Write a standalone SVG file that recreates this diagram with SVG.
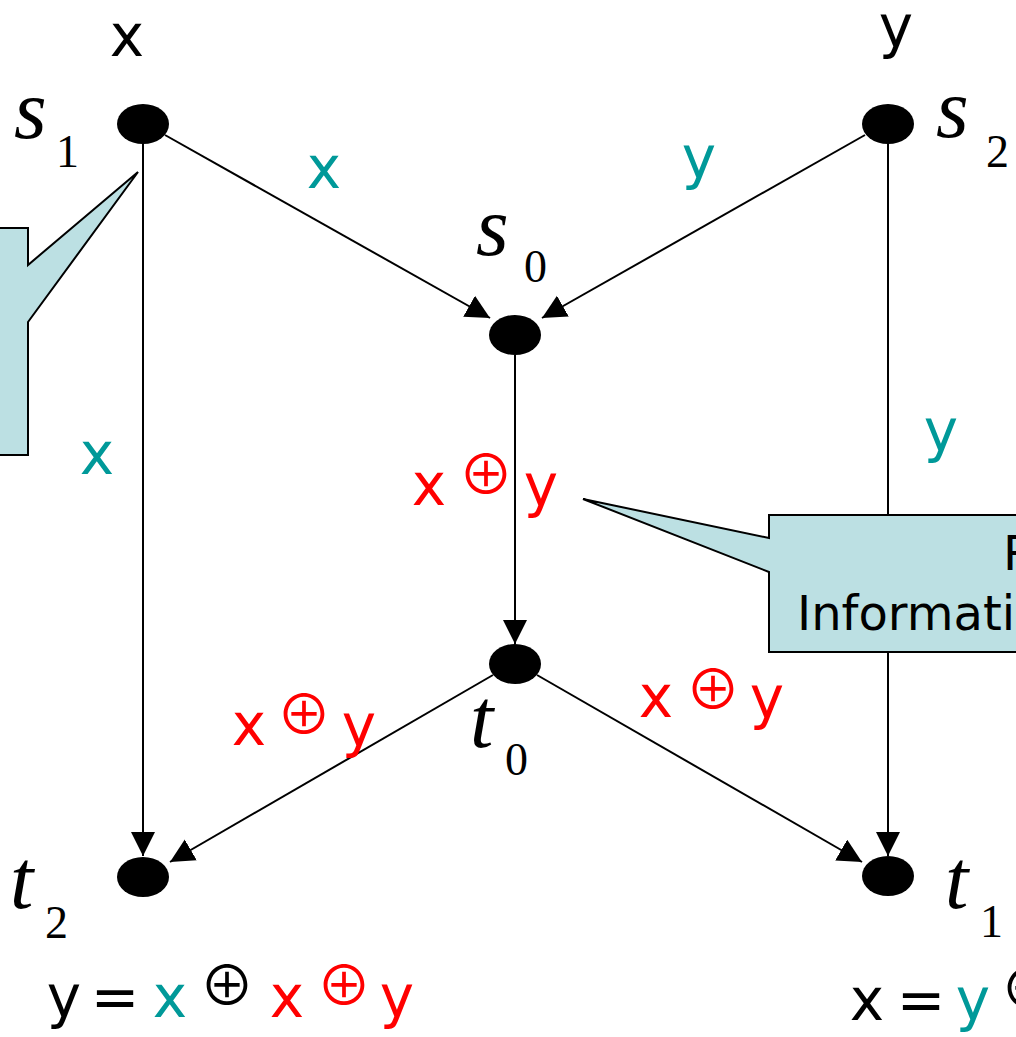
<svg xmlns="http://www.w3.org/2000/svg" width="1016" height="1037" viewBox="0 0 1016 1037">
<style>
.lbl{font-family:"DejaVu Sans","Liberation Sans",sans-serif;font-size:58px;text-anchor:middle}
.op{font-family:"Noto Sans CJK JP","DejaVu Sans",sans-serif;font-size:55px;text-anchor:middle}
.k{fill:#000}
.tl{fill:#009999}
.rd{fill:#ff0000}
.nm{font-family:"Liberation Serif","Times New Roman",serif;font-style:italic;font-size:84px;fill:#000}
.sb{font-family:"Liberation Serif","Times New Roman",serif;font-size:46px;fill:#000}
.node{fill:#000}
.edge{stroke:#000;stroke-width:2;fill:none}
.callout{fill:#bce0e3;stroke:#000;stroke-width:2}
.ct{font-family:"DejaVu Sans","Liberation Sans",sans-serif;font-size:48px;fill:#000}
</style>
<defs>
<marker id="arr" markerUnits="userSpaceOnUse" markerWidth="26" markerHeight="26" refX="24" refY="12" orient="auto">
<path d="M0,0 L24,12 L0,24 z" fill="#000"/>
</marker>
</defs>
<g id="connectors">
<line class="edge" x1="165" y1="135" x2="490" y2="318" marker-end="url(#arr)"/>
<line class="edge" x1="865" y1="135" x2="542" y2="318" marker-end="url(#arr)"/>
<line class="edge" x1="515" y1="355" x2="515" y2="644" marker-end="url(#arr)"/>
<line class="edge" x1="143" y1="144" x2="143" y2="856" marker-end="url(#arr)"/>
<line class="edge" x1="888" y1="144" x2="888" y2="856" marker-end="url(#arr)"/>
<line class="edge" x1="493" y1="675" x2="170" y2="862" marker-end="url(#arr)"/>
<line class="edge" x1="537" y1="675" x2="862" y2="862" marker-end="url(#arr)"/>
</g>
<g id="s1"><ellipse class="node" cx="143" cy="124" rx="26" ry="20"/><text class="nm" x="14" y="138">s</text><text class="sb" x="56" y="167">1</text></g>
<g id="s2"><ellipse class="node" cx="888" cy="124" rx="26" ry="20"/><text class="nm" x="936" y="137">s</text><text class="sb" x="986" y="167">2</text></g>
<g id="s0"><ellipse class="node" cx="515" cy="335" rx="26" ry="20"/><text class="nm" x="476" y="255">s</text><text class="sb" x="524" y="282">0</text></g>
<g id="t0"><ellipse class="node" cx="515" cy="664" rx="26" ry="20"/><text class="nm" x="470" y="747">t</text><text class="sb" x="505" y="775">0</text></g>
<g id="t2"><ellipse class="node" cx="143" cy="877" rx="26" ry="20"/><text class="nm" x="10" y="908">t</text><text class="sb" x="45" y="938">2</text></g>
<g id="t1"><ellipse class="node" cx="888" cy="876" rx="26" ry="20"/><text class="nm" x="945" y="908">t</text><text class="sb" x="980" y="937">1</text></g>
<g id="callout-left"><polygon class="callout" points="-5,228 28,228 28,265 138,172 28,322 28,455 -5,455"/></g>
<g id="callout-right"><polygon class="callout" points="769,515 1025,515 1025,652 769,652 769,572 583,499 769,538"/>
<text class="ct" x="1003" y="570">R</text><text class="ct" x="797" y="630">Informati</text></g>
<g id="labels">
<text class="lbl k" x="127" y="56">x</text>
<text class="lbl k" x="896" y="47">y</text>
<text class="lbl tl" x="324" y="188">x</text>
<text class="lbl tl" x="699" y="178">y</text>
<text class="lbl tl" x="97" y="474">x</text>
<text class="lbl tl" x="941" y="451">y</text>
<text class="lbl rd" x="429" y="505">x</text>
<text class="op rd" x="486" y="494">⊕</text>
<text class="lbl rd" x="541" y="506">y</text>
<text class="lbl rd" x="249" y="745">x</text>
<text class="op rd" x="304" y="734">⊕</text>
<text class="lbl rd" x="359" y="746">y</text>
<text class="lbl rd" x="656" y="717">x</text>
<text class="op rd" x="713" y="709">⊕</text>
<text class="lbl rd" x="767" y="718">y</text>
<text class="lbl k" x="64" y="1017">y</text>
<text class="lbl k" x="115" y="1017">=</text>
<text class="lbl tl" x="170" y="1017">x</text>
<text class="op k" x="227" y="1005">⊕</text>
<text class="lbl rd" x="287" y="1017">x</text>
<text class="op rd" x="344" y="1005">⊕</text>
<text class="lbl rd" x="397" y="1017">y</text>
<text class="lbl k" x="867" y="1020">x</text>
<text class="lbl k" x="921" y="1020">=</text>
<text class="lbl tl" x="973" y="1020">y</text>
<text class="op k" x="1028" y="1008">⊕</text>
</g>
</svg>
